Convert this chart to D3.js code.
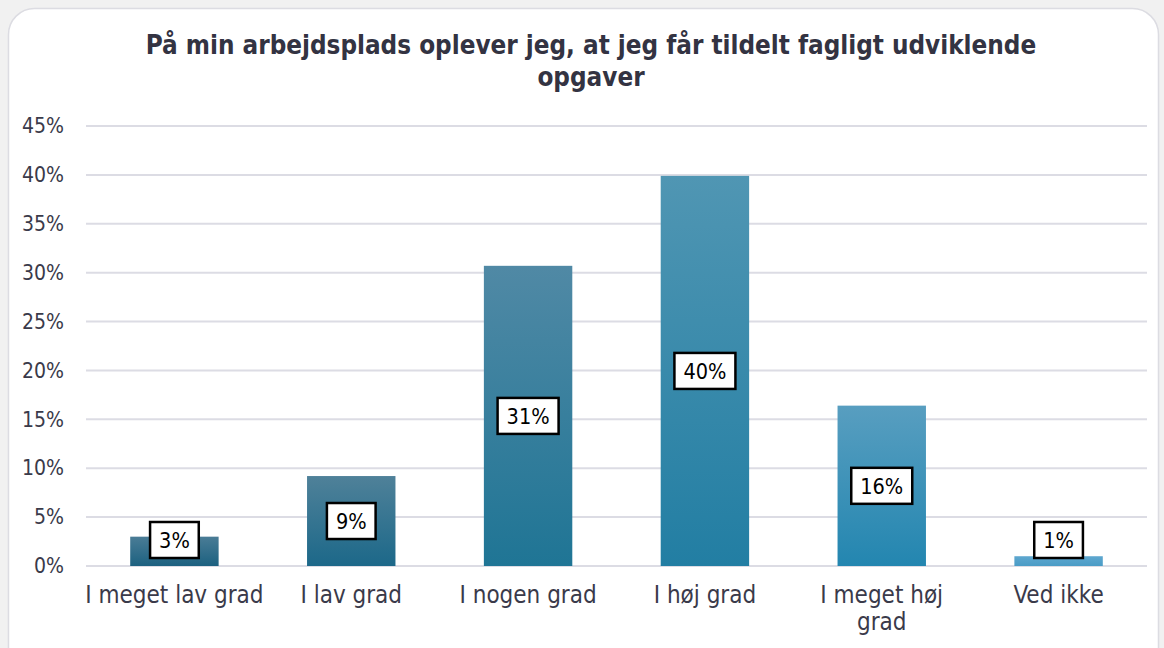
<!DOCTYPE html>
<html><head><meta charset="utf-8">
<script src="https://cdn.jsdelivr.net/npm/d3@7"></script>
<style>
html,body{margin:0;padding:0;background:#f1f1f1;}
svg{display:block;font-family:"DejaVu Sans Condensed","DejaVu Sans",sans-serif;}
</style></head>
<body>
<svg id="c" width="1164" height="648"></svg>
<script>
const titleLines = ["På min arbejdsplads oplever jeg, at jeg får tildelt fagligt udviklende", "opgaver"];
const categories = ["I meget lav grad", "I lav grad", "I nogen grad", "I høj grad", "I meget høj grad", "Ved ikke"];
const values = [3.0, 9.2, 30.7, 39.9, 16.4, 1.0];
const valueLabels = ["3%", "9%", "31%", "40%", "16%", "1%"];
const yTicks = [0, 5, 10, 15, 20, 25, 30, 35, 40, 45];
const topColors = ["#4a7c96", "#4f8199", "#5089a5", "#5096b3", "#589ec0", "#5ea7cf"];
const bottomColors = ["#1c6180", "#1c6889", "#1f7595", "#227ea3", "#2386b0", "#4a9cc6"];

const svg = d3.select("#c");
// card
svg.append("rect").attr("x", 8.5).attr("y", 8.5).attr("width", 1150).attr("height", 680)
  .attr("rx", 26).attr("fill", "#ffffff").attr("stroke", "#dcdce2").attr("stroke-width", 1.5);

const x = d3.scaleBand().domain(categories).range([86, 1147]).paddingInner(0.5).paddingOuter(0.25);
const y = d3.scaleLinear().domain([0, 45]).range([566, 126]);

// gridlines
svg.append("g").selectAll("line").data(yTicks).join("line")
  .attr("x1", 86).attr("x2", 1147)
  .attr("y1", d => y(d)).attr("y2", d => y(d))
  .attr("stroke", "#dcdce4").attr("stroke-width", 2);

// y axis labels
const yAxis = d3.axisLeft(y).tickValues(yTicks).tickFormat(d => d + "%").tickSize(0).tickPadding(0);
const gy = svg.append("g").attr("transform", "translate(64,0)").call(yAxis);
gy.select(".domain").remove();
gy.selectAll("text").attr("font-size", 21).attr("fill", "#3a3a4a")
  .attr("font-family", "\"DejaVu Sans Condensed\",\"DejaVu Sans\",sans-serif");

// gradients
const defs = svg.append("defs");
categories.forEach((c, i) => {
  const g = defs.append("linearGradient").attr("id", "g" + i).attr("x1", 0).attr("y1", 0).attr("x2", 0).attr("y2", 1);
  g.append("stop").attr("offset", "0%").attr("stop-color", topColors[i]);
  g.append("stop").attr("offset", "100%").attr("stop-color", bottomColors[i]);
});

// bars
svg.append("g").selectAll("rect").data(values).join("rect")
  .attr("x", (d, i) => x(categories[i]))
  .attr("width", x.bandwidth())
  .attr("y", d => y(d))
  .attr("height", d => y(0) - y(d))
  .attr("fill", (d, i) => `url(#g${i})`);

// value labels
const lg = svg.append("g");
values.forEach((v, i) => {
  const cx = x(categories[i]) + x.bandwidth() / 2;
  const cy = Math.min((y(v) + y(0)) / 2, y(0) - 26);
  const g = lg.append("g").attr("transform", `translate(${cx},${cy})`);
  const t = g.append("text").attr("text-anchor", "middle").attr("dy", "0.36em")
    .attr("font-size", 21.5).attr("fill", "#000").text(valueLabels[i]);
  const w = t.node().getComputedTextLength() + 18;
  g.insert("rect", "text").attr("x", -w / 2).attr("y", -18).attr("width", w).attr("height", 36)
    .attr("fill", "#fff").attr("stroke", "#000").attr("stroke-width", 2.5);
});

// x labels
const gx = svg.append("g");
categories.forEach((c, i) => {
  const cx = x(c) + x.bandwidth() / 2;
  const lines = c === "I meget høj grad" ? ["I meget høj", "grad"] : [c];
  lines.forEach((ln, j) => {
    gx.append("text").attr("x", cx).attr("y", 603 + j * 27).attr("text-anchor", "middle")
      .attr("font-size", 24).attr("fill", "#3a3a4a").text(ln);
  });
});

// title
titleLines.forEach((ln, j) => {
  svg.append("text").attr("x", 591).attr("y", 54 + j * 32).attr("text-anchor", "middle")
    .attr("font-size", 25.8).attr("font-weight", "bold").attr("fill", "#333342").text(ln);
});
</script>
</body></html>
